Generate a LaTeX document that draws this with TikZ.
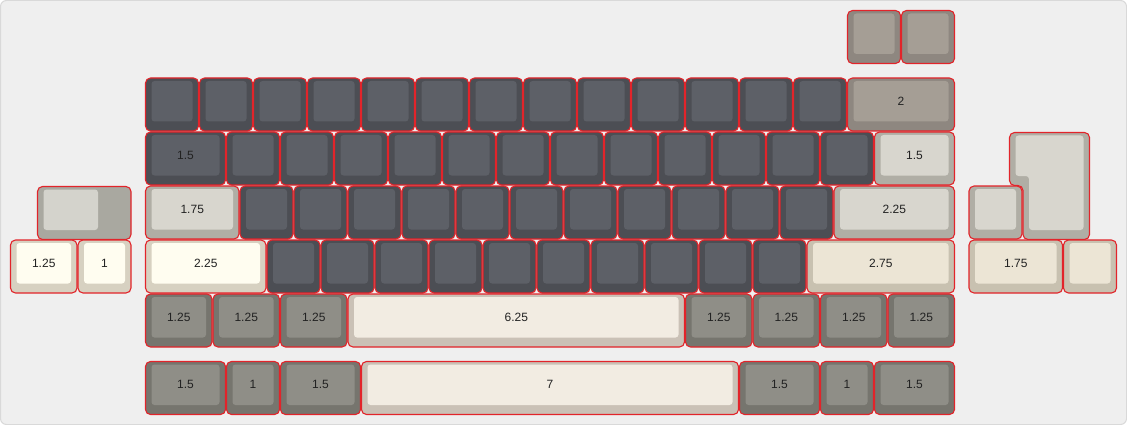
\documentclass[tikz,border=0pt]{standalone}
\usepackage{fontspec}
\setmainfont{Liberation Sans}
\definecolor{bgfill}{HTML}{EFEFEF}
\definecolor{bgline}{HTML}{D9D9D9}
\definecolor{keyred}{HTML}{E2242A}
\definecolor{txt}{HTML}{222222}
\definecolor{dkO}{HTML}{4C4E54}
\definecolor{dkI}{HTML}{5D6067}
\definecolor{tpO}{HTML}{8E8780}
\definecolor{tpI}{HTML}{A59E95}
\definecolor{lgO}{HTML}{B0AEA5}
\definecolor{lgI}{HTML}{D8D6CE}
\definecolor{crO}{HTML}{D7D1C1}
\definecolor{crI}{HTML}{FFFDF0}
\definecolor{bgO}{HTML}{C8C1B0}
\definecolor{bgI}{HTML}{ECE5D5}
\definecolor{spO}{HTML}{CAC1B6}
\definecolor{spI}{HTML}{F2ECE2}
\definecolor{mdO}{HTML}{76756E}
\definecolor{mdI}{HTML}{8F8E87}
\definecolor{stO}{HTML}{A9A8A0}
\definecolor{stI}{HTML}{D4D3CC}
\tikzset{
  keyouter/.style={draw=keyred, line width=1.1pt, rounded corners=5pt},
  keyinner/.style={rounded corners=3pt},
  keylabel/.style={inner sep=0pt, text=txt, font=\fontsize{12}{14}\selectfont},
}
\newcommand{\kbkey}[7]{%
  \pgfmathsetmacro{\xa}{10+54*(#2)}%
  \pgfmathsetmacro{\ya}{10+54*(#3)}%
  \pgfmathsetmacro{\xb}{10+54*((#2)+(#4))}%
  \pgfmathsetmacro{\yb}{10+54*((#3)+(#5))}%
  \path[keyouter, fill=#6O] (\xa+0.5,\ya+0.5) rectangle (\xb-0.5,\yb-0.5);
  \path[keyinner, fill=#6I] (\xa+6.5,\ya+3.5) rectangle (\xb-6.5,\yb-10);
  \node[keylabel] (#1) at ({(\xa+\xb)/2},{(\ya+\yb-6.5)/2}) {#7};
}
\begin{document}
\begin{tikzpicture}[x=1pt,y=-1pt]
\useasboundingbox (0,0) rectangle (1127,425);
\path[fill=bgfill, draw=bgline, line width=1pt, rounded corners=6pt] (0.5,0.5) rectangle (1126.5,424.5);
% top
\kbkey{ta}{15.5}{0}{1}{1}{tp}{}
\kbkey{tb}{16.5}{0}{1}{1}{tp}{}
% row 1
\foreach \i in {0,...,12} {\kbkey{ra\i}{2.5+\i}{1.25}{1}{1}{dk}{}}
\kbkey{raw}{15.5}{1.25}{2}{1}{tp}{2}
% row 2
\kbkey{rbl}{2.5}{2.25}{1.5}{1}{dk}{1.5}
\foreach \i in {0,...,11} {\kbkey{rb\i}{4+\i}{2.25}{1}{1}{dk}{}}
\kbkey{rbr}{16}{2.25}{1.5}{1}{lg}{1.5}
% row 3
\kbkey{rcl}{2.5}{3.25}{1.75}{1}{lg}{1.75}
\foreach \i in {0,...,10} {\kbkey{rc\i}{4.25+\i}{3.25}{1}{1}{dk}{}}
\kbkey{rcr}{15.25}{3.25}{2.25}{1}{lg}{2.25}
% row 4
\kbkey{rdl}{2.5}{4.25}{2.25}{1}{cr}{2.25}
\foreach \i in {0,...,9} {\kbkey{rd\i}{4.75+\i}{4.25}{1}{1}{dk}{}}
\kbkey{rdr}{14.75}{4.25}{2.75}{1}{bg}{2.75}
% row 5
\kbkey{re1}{2.5}{5.25}{1.25}{1}{md}{1.25}
\kbkey{re2}{3.75}{5.25}{1.25}{1}{md}{1.25}
\kbkey{re3}{5}{5.25}{1.25}{1}{md}{1.25}
\kbkey{resp}{6.25}{5.25}{6.25}{1}{sp}{6.25}
\kbkey{re4}{12.5}{5.25}{1.25}{1}{md}{1.25}
\kbkey{re5}{13.75}{5.25}{1.25}{1}{md}{1.25}
\kbkey{re6}{15}{5.25}{1.25}{1}{md}{1.25}
\kbkey{re7}{16.25}{5.25}{1.25}{1}{md}{1.25}
% row 6
\kbkey{rf1}{2.5}{6.5}{1.5}{1}{md}{1.5}
\kbkey{rf2}{4}{6.5}{1}{1}{md}{1}
\kbkey{rf3}{5}{6.5}{1.5}{1}{md}{1.5}
\kbkey{rfsp}{6.5}{6.5}{7}{1}{sp}{7}
\kbkey{rf4}{13.5}{6.5}{1.5}{1}{md}{1.5}
\kbkey{rf5}{15}{6.5}{1}{1}{md}{1}
\kbkey{rf6}{16}{6.5}{1.5}{1}{md}{1.5}
% left cluster: stepped key
\path[keyouter, fill=stO] (37.5,186.5) rectangle (131,239.5);
\path[keyinner, fill=stI] (43.5,189.5) rectangle (98,230);
\kbkey{la}{0}{4.25}{1.25}{1}{cr}{1.25}
\kbkey{lb}{1.25}{4.25}{1}{1}{cr}{1}
% right cluster: ISO enter
\path[keyouter, fill=lgO] (1009.5,132.5) -- (1089.5,132.5) -- (1089.5,239.5) -- (1023,239.5) -- (1023,185.5) -- (1009.5,185.5) -- cycle;
\path[keyinner, fill=lgI] (1015.5,135.5) -- (1083.5,135.5) -- (1083.5,230) -- (1029,230) -- (1029,176) -- (1015.5,176) -- cycle;
\kbkey{rg1}{17.75}{3.25}{1}{1}{lg}{}
\kbkey{rg2}{17.75}{4.25}{1.75}{1}{bg}{1.75}
\kbkey{rg3}{19.5}{4.25}{1}{1}{bg}{}
\end{tikzpicture}
\end{document}
